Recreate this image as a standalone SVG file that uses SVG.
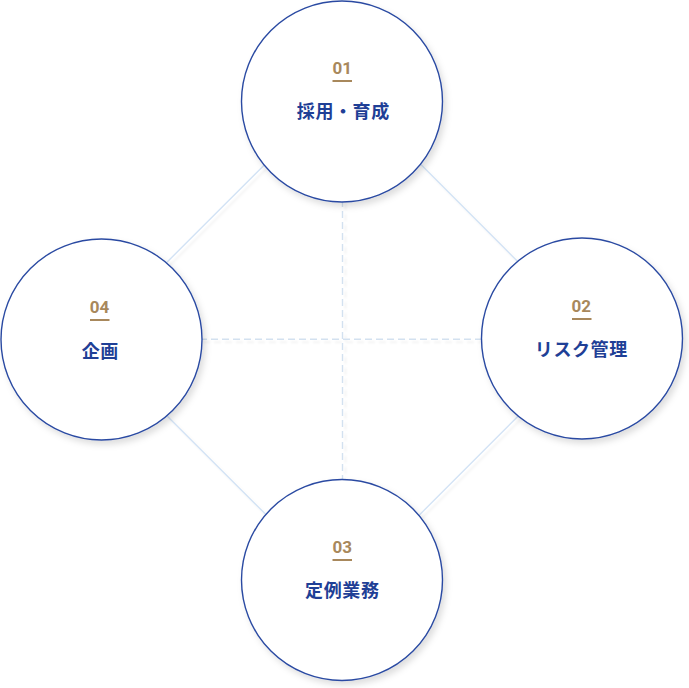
<svg xmlns="http://www.w3.org/2000/svg" width="689" height="688" viewBox="0 0 689 688">
<defs>
<filter id="sh" x="-20%" y="-20%" width="150%" height="150%">
<feDropShadow dx="3" dy="4" stdDeviation="3" flood-color="#000" flood-opacity="0.13"/>
</filter>
<filter id="lsh" x="-10%" y="-10%" width="130%" height="130%">
<feDropShadow dx="3" dy="3" stdDeviation="1.2" flood-color="#000" flood-opacity="0.06"/>
</filter>
<style>
.node circle{fill:#fff;stroke:#2a4aa2;stroke-width:1.4;}
.num{font-family:Roboto,"Noto Sans","Noto Sans CJK JP",sans-serif;font-weight:700;font-size:17px;fill:#a8885c;text-anchor:middle;}
.bar{fill:#a8885c;}
.lbl{font-family:"Noto Sans CJK JP","Noto Sans",sans-serif;font-weight:700;font-size:18px;fill:#1f3f96;text-anchor:middle;letter-spacing:0.6px;}
.edge{stroke:#d3e3f5;stroke-width:1.4;fill:none;}
.dash{stroke:#d3e1f0;stroke-width:1.4;stroke-dasharray:7 4;fill:none;}
</style>
</defs>
<rect width="689" height="688" fill="#fff"/>
<g id="connectors" filter="url(#lsh)">
<polygon class="edge" points="343,86.5 595,339 343,591.5 90,339"/>
<line class="dash" x1="342.5" y1="200" x2="342.5" y2="480"/>
<line class="dash" x1="200" y1="339.3" x2="482" y2="339.3"/>
</g>
<g id="node-01" class="node">
<circle cx="342" cy="101.5" r="100.5" filter="url(#sh)"/>
<text class="num" x="342.3" y="74">01</text>
<rect class="bar" x="332.5" y="80" width="19.5" height="2"/>
<text class="lbl" x="343.3" y="118">採用・育成</text>
</g>
<g id="node-02" class="node">
<circle cx="582" cy="338.5" r="100.5" filter="url(#sh)"/>
<text class="num" x="581.3" y="312">02</text>
<rect class="bar" x="572" y="318" width="19.5" height="2"/>
<text class="lbl" x="581.3" y="356">リスク管理</text>
</g>
<g id="node-03" class="node">
<circle cx="342" cy="580" r="100.5" filter="url(#sh)"/>
<text class="num" x="342.3" y="553">03</text>
<rect class="bar" x="332.5" y="559" width="19.5" height="2"/>
<text class="lbl" x="342.3" y="597">定例業務</text>
</g>
<g id="node-04" class="node">
<circle cx="101.5" cy="339.5" r="100.5" filter="url(#sh)"/>
<text class="num" x="99.5" y="313">04</text>
<rect class="bar" x="90" y="319" width="19.5" height="2"/>
<text class="lbl" x="100.3" y="358">企画</text>
</g>
</svg>
